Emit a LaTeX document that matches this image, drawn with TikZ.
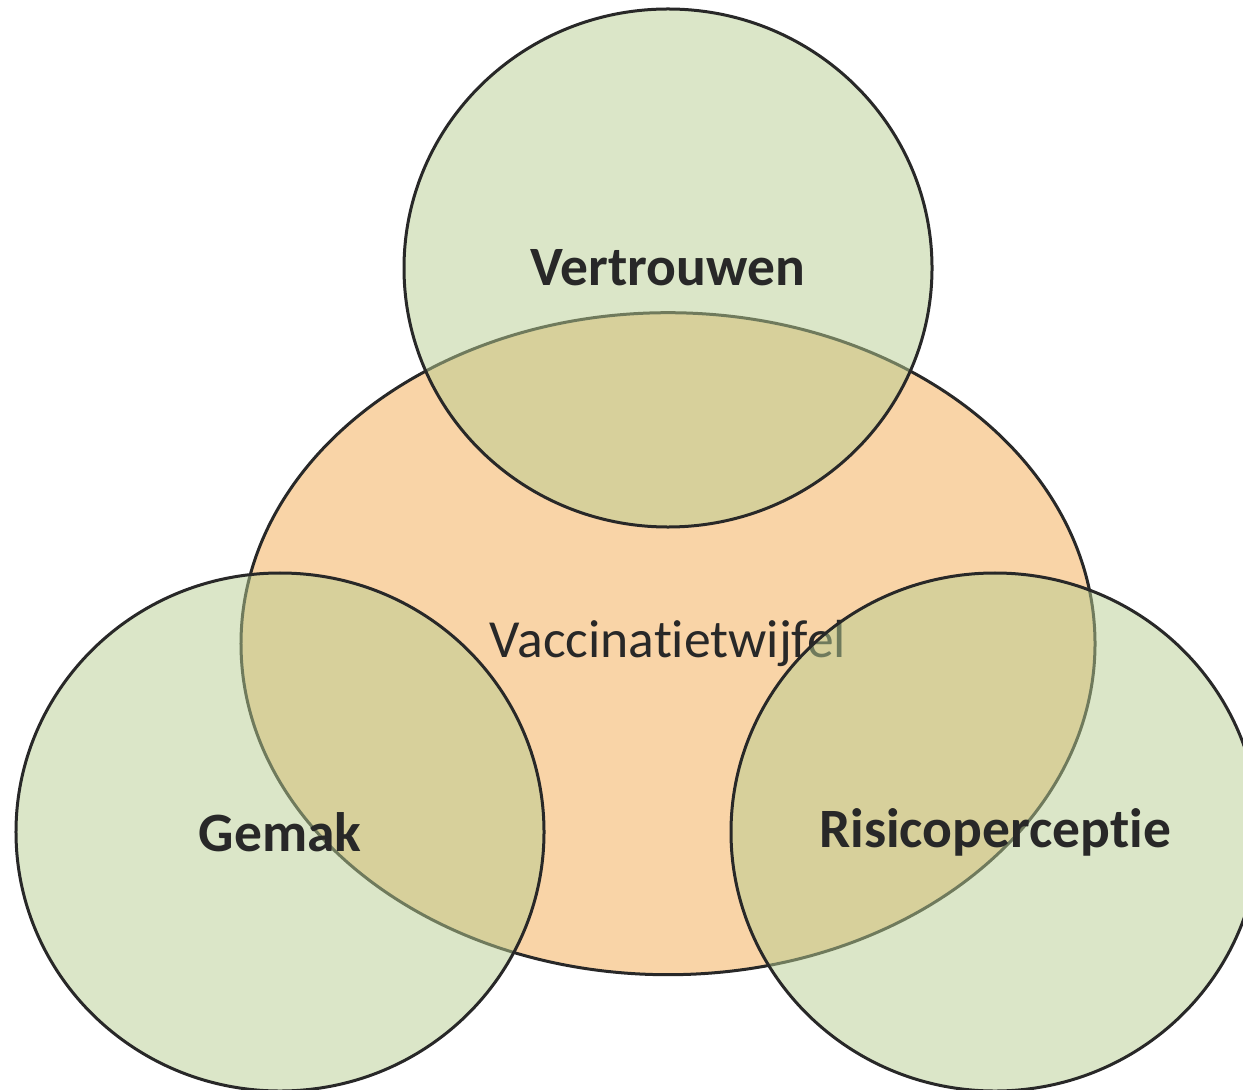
\documentclass[tikz,border=0pt]{standalone}
\usepackage{fontspec}
\setmainfont[Ligatures=NoCommon]{Carlito}
\usetikzlibrary{shapes.geometric}

\definecolor{oranje}{HTML}{F9D4A7}
\definecolor{groen}{HTML}{B7CD91}
\definecolor{lijn}{HTML}{282828}

\begin{document}
\begin{tikzpicture}[x=0.2mm, y=-0.2mm,
  % estilos gerais
  basis/.style={ellipse, draw=lijn, line width=0.6mm, text=lijn,
    font=\fontsize{30.5pt}{36pt}\selectfont, inner sep=0pt},
  kern/.style={basis, fill=oranje, minimum width=170.8mm, minimum height=132.4mm},
  factor/.style={basis, fill=groen, fill opacity=0.5, text opacity=1,
    minimum width=105.6mm, minimum height=103.6mm,
    font=\fontsize{31.6pt}{36pt}\selectfont\bfseries}]

  % --- AREA DA FIGURA ---
  \useasboundingbox (0,0) rectangle (1243,1090);
  \clip (0,0) rectangle (1243,1090);

  % Posições chaves
  \def\xMid{668}
  \def\xLeft{280}
  \def\xRight{995}
  \def\yLow{832}

  % --- ELIPSE CENTRAL ---
  \node[kern] (twijfel) at (\xMid, 643.7) {Vaccinatietwijfel};

  % --- TRES CIRCULOS (semi-transparentes) ---
  \node[factor] (vertrouwen) at (\xMid, 268) {Vertrouwen};
  \node[factor] (gemak) at (\xLeft, \yLow) {Gemak};
  \node[factor] (risico) at (\xRight, \yLow) {Risicoperceptie};

\end{tikzpicture}
\end{document}
